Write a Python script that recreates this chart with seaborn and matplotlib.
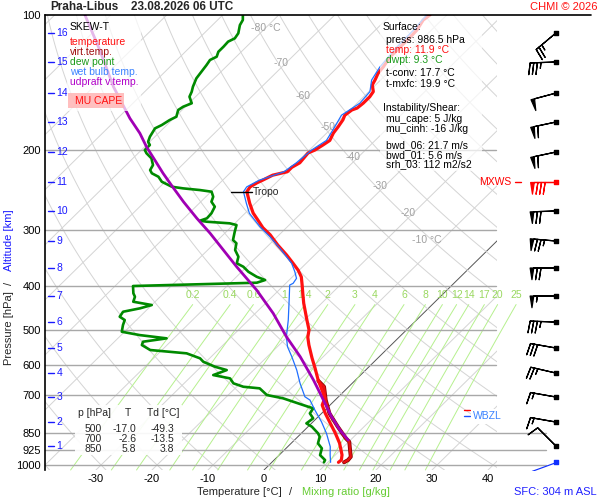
import numpy as np
import pandas as pd
import matplotlib
matplotlib.use("Agg")
import matplotlib.pyplot as plt
import seaborn as sns
from matplotlib import transforms
from matplotlib.patches import Rectangle
import matplotlib.patheffects as pe

# ---------------------------------------------------------------- data
station = "Praha-Libus"
issued = "23.08.2026 06 UTC"

temp_p = [100, 102.6, 108, 112, 118, 124, 130.5, 134.6, 139.5, 143, 148, 152, 157, 161, 162.6,
          167, 171, 177, 183, 190, 194.5, 199.5, 202.6, 213, 218, 223, 227, 233, 236, 241, 247,
          262, 275.5, 285.5, 297, 308, 324.5, 341.5, 356, 369, 382, 398, 415, 437, 476, 501, 520,
          541, 578, 609, 647, 681, 710, 736, 767, 807, 849, 894, 950, 975, 986.5]
temp_t = [-53.0, -53.3, -52.6, -52.5, -52.5, -52.5, -51.9, -51.7, -51.0, -50.6, -49.2, -48.9, -48.9,
          -49.1, -49.7, -50.0, -49.5, -49.1, -48.8, -48.1, -48.5, -49.0, -49.7, -49.4, -50.0, -50.0,
          -52.0, -52.9, -53.4, -53.9, -53.6, -51.0, -48.6, -46.5, -44.2, -41.6, -38.4, -35.0, -32.4,
          -30.2, -28.4, -26.8, -25.2, -23.2, -19.6, -17.4, -16.3, -14.7, -11.8, -9.4, -6.7, -4.2,
          -2.2, -1.4, 0.6, 3.3, 6.0, 8.6, 11.2, 12.0, 11.9]

virt_p = [650, 670, 717, 768, 822, 873, 888, 935, 959, 975, 986.5]
virt_t = [-6.5, -4.4, -1.7, 1.4, 5.3, 8.9, 10.1, 12.1, 13.1, 13.2, 12.9]

dew_p = [100, 102.6, 105.3, 109.8, 112.7, 114.6, 117.6, 120.7, 123.8, 125.9, 129.2, 133.7, 138.3,
         144.3, 148.1, 151.9, 157.1, 159.9, 162.6, 168.3, 171.2, 175.6, 178.6, 186.4, 191.3, 194.5,
         199.5, 202.9, 208.2, 215.5, 221.1, 224.8, 228.8, 234.7, 240.8, 242.8, 244.9, 247.0, 253.4,
         260.0, 266.7, 275.9, 283.0, 286.5, 288.0, 290.4, 292.9, 303.1, 316.3, 321.6, 332.9, 344.5,
         356.3, 362.6, 372.0, 381.7, 388.1, 393.5, 396.2, 400.2, 415.5, 422.8, 433.7, 441.1, 448.6,
         456.5, 468.3, 476.3, 488.7, 505.7, 514.4, 523.1, 532.2, 541.3, 555.3, 564.8, 579.4, 589.6,
         604.9, 615.3, 631.2, 642.0, 658.5, 670.1, 675.6, 699.1, 711.0, 735.9, 748.4, 767.8, 787.7,
         808.1, 822.3, 850.6, 865.4, 895.3, 918.5, 950.6, 975.2, 986.5]
dew_t = [-86.4, -85.5, -85.1, -83.9, -83.6, -84.2, -84.1, -84.1, -83.5, -84.1, -83.8, -83.5, -83.2,
         -82.3, -81.6, -81.1, -79.5, -80.4, -80.7, -79.8, -80.4, -80.9, -81.5, -80.9, -80.3, -79.4,
         -79.4, -78.5, -76.7, -75.2, -74.8, -73.9, -72.1, -70.6, -67.9, -65.6, -62.3, -59.9, -58.7,
         -58.1, -56.6, -56.0, -55.9, -56.7, -55.3, -50.9, -49.4, -48.5, -47.3, -46.1, -45.1, -43.3,
         -42.4, -40.6, -38.8, -36.4, -34.3, -35.3, -44.0, -56.8, -55.4, -54.5, -53.9, -50.0, -51.5,
         -53.9, -53.6, -52.1, -51.5, -50.5, -46.7, -41.3, -44.9, -44.5, -42.1, -35.0, -31.7, -30.5,
         -27.5, -24.8, -26.3, -22.7, -21.2, -18.8, -15.6, -13.1, -9.6, -4.8, -2.4, -2.1, -0.6,
         -0.9, 0.7, 3.0, 3.9, 4.8, 6.4, 7.3, 9.1, 9.3]

wet_p = [100, 108, 118, 130.5, 139.5, 148, 157, 167, 177, 190, 199.5, 213, 223, 233, 241, 247, 262,
         276, 295.5, 311, 330, 344.5, 356.3, 372, 384.8, 394.8, 398.2, 437.3, 476.3, 518.8, 545.9,
         574.7, 615.3, 658.5, 705.3, 717.3, 755, 801.6, 850.6, 910.7, 950.6, 986.5]
wet_t = [-53.6, -53.2, -53.1, -52.5, -51.6, -49.8, -49.5, -50.6, -49.7, -48.7, -49.6, -50.0, -50.6,
         -53.5, -54.5, -54.2, -51.6, -49.2, -44.9, -41.3, -37.4, -34.7, -32.6, -30.5, -29.0, -28.7,
         -29.0, -25.8, -22.9, -20.2, -18.2, -15.6, -12.3, -9.3, -6.0, -4.5, -1.8, 1.5, 4.5, 7.6,
         9.1, 10.5]

parcel_p = [100, 119.6, 144.3, 169.7, 183.2, 196.2, 210.0, 224.8, 238.7, 260.0, 283.0, 305.6,
            332.9, 362.6, 408.5, 460.3, 518.8, 574.7, 647.5, 693.1, 742.3, 781.3, 836.3, 880.3]
parcel_t = [-114.6, -105.6, -96.5, -87.8, -83.3, -79.7, -75.8, -71.9, -68.3, -63.1, -57.7, -52.6,
            -47.2, -41.8, -34.0, -26.8, -20.2, -14.1, -7.5, -3.9, -0.3, 2.4, 6.3, 9.6]

pressure_ticks = [100, 200, 300, 400, 500, 600, 700, 850, 925, 1000]
temp_ticks = [-30, -20, -10, 0, 10, 20, 30, 40]
alt_km = list(range(1, 17))
alt_p = [907.7, 802.8, 706.3, 624.8, 549.7, 481.2, 421.3, 365.0, 317.9, 272.6, 235.1, 201.6,
         172.9, 149.1, 127.2, 109.6]
wind_dir = [315, 280, 280, 283, 280, 272, 270, 270, 275, 268, 270, 258, 258, 255, 268, 230]
wind_spd = [10, 15, 15, 25, 30, 35, 55, 70, 75, 70, 80, 60, 60, 50, 35, 25]
mxws_km = 11
sfc_p, sfc_dir, sfc_spd = 986.5, 250, 3

mixing_ratios = [0.2, 0.4, 0.6, 1, 1.4, 2, 3, 4, 6, 8, 10, 12, 14, 17, 20, 25]
isotherm_labels = [-80, -70, -60, -50, -40, -30, -20, -10]
isotherm_label_p = [106.9, 127.8, 151.4, 177.4, 206.9, 240.0, 275.5, 316.0]
tropo_p, tropo_t = 248.0, -53.6
freezing_p, wbzl_p = 755, 780

table_header = ("p [hPa]", "T", "Td [°C]")
table_rows = [("500", "-17.0", "-49.3"), ("700", "-2.6", "-13.5"), ("850", "5.8", "3.8")]

RED, DRED, GREEN, BLUE, PURPLE = "#ff1010", "#a01010", "#008a00", "#1f6fff", "#a000b4"
surface_lines = [("Surface:", "black", 0), ("press: 986.5 hPa", "black", 1),
                 ("temp: 11.9 °C", RED, 1), ("dwpt: 9.3 °C", "#1a9a1a", 1),
                 ("t-conv: 17.7 °C", "black", 1), ("t-mxfc: 19.9 °C", "black", 1),
                 ("Instability/Shear:", "black", 0), ("mu_cape: 5 J/kg", "black", 1),
                 ("mu_cinh: -16 J/kg", "black", 1), ("bwd_06: 21.7 m/s", "black", 1),
                 ("bwd_01: 5.6 m/s", "black", 1), ("srh_03: 112 m2/s2", "black", 1)]
surface_line_y = [27, 40, 50, 60, 73, 84, 108, 119.5, 129.5, 145, 155, 164.5]
legend_items = [("SKEW-T", "black"), ("temperature", RED), ("virt.temp.", DRED),
                ("dew point", "#1a9a1a"), ("wet bulb temp.", "#3a82ff"), ("udpraft v.temp.", "#b000c8")]
legend_y = [27, 42, 52, 62, 72, 82]

# ---------------------------------------------------------------- style
sns.set_style("white")
plt.rcParams["font.family"] = ["Liberation Sans", "DejaVu Sans"]

W, H = 600, 500
P_BOT, P_TOP, SKEW = 1026.0, 100.0, 35.49


def sx(t, p):
    return np.asarray(t, float) + SKEW * np.log(P_BOT / np.asarray(p, float))


fig = plt.figure(figsize=(6, 5), dpi=100)
ax = fig.add_axes([45 / W, 30 / H, 452 / W, 455 / H])
ax.set_yscale("log")
ax.set_ylim(P_BOT, P_TOP)
ax.set_xlim(-39.1, 41.6)
blend = transforms.blended_transform_factory(ax.transAxes, ax.transData)

# background: isotherms, dry adiabats, mixing ratio lines
pp = np.geomspace(P_BOT, P_TOP, 120)
for t in range(-130, 50, 10):
    ax.plot(sx(t, pp), pp, color="#555555" if t == 0 else "#d4d4d4", lw=0.7, zorder=1)
for th in range(-40, 190, 10):
    tt = (th + 273.15) * (pp / 1000.0) ** 0.2857 - 273.15
    ax.plot(sx(tt, pp), pp, color="#d4d4d4", lw=0.7, zorder=1)

pm = np.geomspace(P_BOT, 440, 40)
for w in mixing_ratios:
    e = w * pm / (622.0 + w)
    lg = np.log(e / 6.112)
    td = 243.5 * lg / (17.67 - lg)
    ax.plot(sx(td, pm), pm, color="#b6f08e", lw=0.7, zorder=1.2, clip_on=False)
    ax.text(sx(td[-1], 440), 419, f"{w:g}", color="#9ad860", fontsize=7.5,
            ha="center", va="center", zorder=1.3, clip_on=False)

for T, p in zip(isotherm_labels, isotherm_label_p):
    off = {-80: 0.0, -10: -2.8}.get(T, -0.9)
    lab = f"{T} °C" if T in (-80, -10) else f"{T}"
    ax.text(sx(T, p) + off, p, lab, color="#a0a0a0", fontsize=7.5, ha="center", va="center", zorder=1.3)

for p in pressure_ticks[1:]:
    xe = 1.108 if p >= 850 else 0.998
    ax.plot([0, xe], [p, p], color="#a8a8a8", lw=1.0, transform=blend, clip_on=False, zorder=1.5)
ax.plot([0, 1.208], [P_TOP, P_TOP], color="black", lw=1.2, transform=blend, clip_on=False, zorder=8)

# profiles
def prof(t, p, **kw):
    sns.lineplot(x=sx(t, p), y=np.asarray(p, float), sort=False, estimator=None, ax=ax, **kw)

prof(dew_t, dew_p, color=GREEN, linewidth=1.9, zorder=3)
prof(virt_t, virt_p, color="#e81010", linewidth=1.7, zorder=3.2,
     path_effects=[pe.Stroke(linewidth=2.8, foreground="#8b0000"), pe.Normal()])
prof(temp_t, temp_p, color=RED, linewidth=2.3, zorder=3.4)
prof(wet_t, wet_p, color=BLUE, linewidth=0.9, zorder=3.6)
prof(parcel_t, parcel_p, color=PURPLE, linewidth=2.0, zorder=3.8)

# tropopause marker
xt = sx(tropo_t, tropo_p)
ax.plot([xt - 2.7, xt + 1.0], [tropo_p, tropo_p], color="black", lw=1.0, zorder=7)
ax.text(xt + 1.25, tropo_p, "Tropo", fontsize=7.5, ha="left", va="center", zorder=7)

# altitude ticks
for km, p in zip(alt_km, alt_p):
    ax.plot([0.007, 0.019], [p, p], transform=blend, color="#1a1aff", lw=1.0, zorder=6)
    ax.text(0.025, p, str(km), transform=blend, color="#1a1aff", fontsize=7.5,
            ha="left", va="center", zorder=6)

# freezing level / WBZL marks
ax.plot([0.926, 0.94], [freezing_p, freezing_p], transform=blend, color="red", lw=1.0, clip_on=False, zorder=7)
ax.plot([0.926, 0.94], [wbzl_p, wbzl_p], transform=blend, color="#1a4fff", lw=1.0, clip_on=False, zorder=7)
ax.text(0.947, wbzl_p, "WBZL", transform=blend, color="#3a82ff", fontsize=7.5, ha="left", va="center",
        clip_on=False, zorder=7, bbox=dict(facecolor="white", edgecolor="none", pad=1.5))

# MXWS label
mx_p = alt_p[alt_km.index(mxws_km)]
ax.text(1.031, mx_p, "MXWS", transform=blend, color="red", fontsize=7.5, ha="right", va="center",
        clip_on=False, zorder=7)
ax.plot([1.04, 1.054], [mx_p, mx_p], transform=blend, color="red", lw=1.0, clip_on=False, zorder=7)

# axes styling
ax.set_yticks(pressure_ticks)
ax.set_yticklabels([str(p) for p in pressure_ticks])
ax.yaxis.set_minor_locator(matplotlib.ticker.NullLocator())
ax.set_xticks(temp_ticks)
ax.set_xticklabels([str(t) for t in temp_ticks])
ax.tick_params(axis="both", length=0, labelsize=8, colors="black")
ax.tick_params(axis="y", pad=3)
ax.tick_params(axis="x", pad=3)
ax.set_xlabel("")
ax.set_ylabel("")
for s in ["top", "right", "bottom"]:
    ax.spines[s].set_visible(False)
ax.spines["left"].set_color("black")
ax.spines["left"].set_linewidth(1.2)
ax.grid(False)

# wind barbs column
axb = fig.add_axes([497 / W, 30 / H, 98 / W, 455 / H])
axb.set_yscale("log")
axb.set_ylim(P_BOT, P_TOP)
axb.set_xlim(0, 1)
axb.axis("off")
bx = 0.602
d = np.radians(wind_dir)
s = np.asarray(wind_spd, float)
u, v = -s * np.sin(d), -s * np.cos(d)
ap = np.asarray(alt_p)
is_mx = np.array([k == mxws_km for k in alt_km])
kw = dict(length=6.1, linewidth=0.9, flip_barb=True,
          sizes=dict(spacing=0.14, height=0.45, width=0.14))
axb.barbs(np.full((~is_mx).sum(), bx), ap[~is_mx], u[~is_mx], v[~is_mx], color="black", **kw)
axb.barbs(np.full(is_mx.sum(), bx), ap[is_mx], u[is_mx], v[is_mx], color="red", **kw)
axb.scatter(np.full((~is_mx).sum(), bx), ap[~is_mx], marker="s", s=6, color="black", zorder=5)
axb.scatter([bx], ap[is_mx], marker="s", s=6, color="red", zorder=5)
ds = np.radians(sfc_dir)
axb.quiver([bx], [sfc_p], [np.sin(ds)], [np.cos(ds)], angles="uv", pivot="tail", scale=1 / 0.26,
           scale_units="inches", headwidth=0, headlength=0, headaxislength=0, width=0.012, color="#1030ff")
axb.scatter([bx], [sfc_p], marker="s", s=6, color="#1030ff", zorder=5)


# ---------------------------------------------------------------- boxes and texts
def box(x0, y0, x1, y1, fc, alpha):
    fig.add_artist(Rectangle((x0 / W, 1 - y1 / H), (x1 - x0) / W, (y1 - y0) / H,
                             transform=fig.transFigure, facecolor=fc, edgecolor="none",
                             alpha=alpha, zorder=2))


def ftext(x, y, txt, **kw):
    kw.setdefault("fontsize", 7.5)
    kw.setdefault("va", "center")
    fig.text(x / W, 1 - y / H, txt, zorder=3, **kw)


# legend box
box(67, 16, 141, 111, "white", 0.72)
for (txt, col), y in zip(legend_items, legend_y):
    ftext(70, y, txt, color=col)
box(68, 93, 124, 108, "#ffb4b4", 0.85)
ftext(75, 101, "MU CAPE", color=RED)

# surface / instability box
box(380, 16, 482, 171, "white", 0.72)
for (txt, col, ind), y in zip(surface_lines, surface_line_y):
    ftext(383 + 3 * ind, y, txt, color=col)

# table box
box(75, 405, 182, 455, "white", 0.92)
ftext(78, 413.5, table_header[0])
ftext(128, 413.5, table_header[1], ha="center")
ftext(147, 413.5, table_header[2])
for (a, b, c), y in zip(table_rows, [428.5, 439, 449]):
    ftext(102, y, a, ha="right")
    ftext(136.5, y, b, ha="right")
    ftext(174, y, c, ha="right")

# titles and axis captions
ftext(50, 7, station, fontsize=8.5, fontweight="bold")
ftext(131, 7, issued, fontsize=8.5, fontweight="bold")
ftext(597, 7, "CHMI © 2026", fontsize=8, color=RED, ha="right")
ftext(197, 492, "Temperature [°C]", fontsize=8)
ftext(289, 492, "/", fontsize=8)
ftext(302, 492, "Mixing ratio [g/kg]", fontsize=8, color="#66cc33")
ftext(597, 492, "SFC: 304 m ASL", fontsize=8, color="#2020ff", ha="right")
ftext(9, 328, "Pressure [hPa]", fontsize=8, rotation=90, ha="center")
ftext(9, 283, "/", fontsize=8, rotation=90, ha="center")
ftext(9, 240, "Altitude [km]", fontsize=8, rotation=90, ha="center", color="#1a1aff")

fig.savefig("out.png", dpi=100)
